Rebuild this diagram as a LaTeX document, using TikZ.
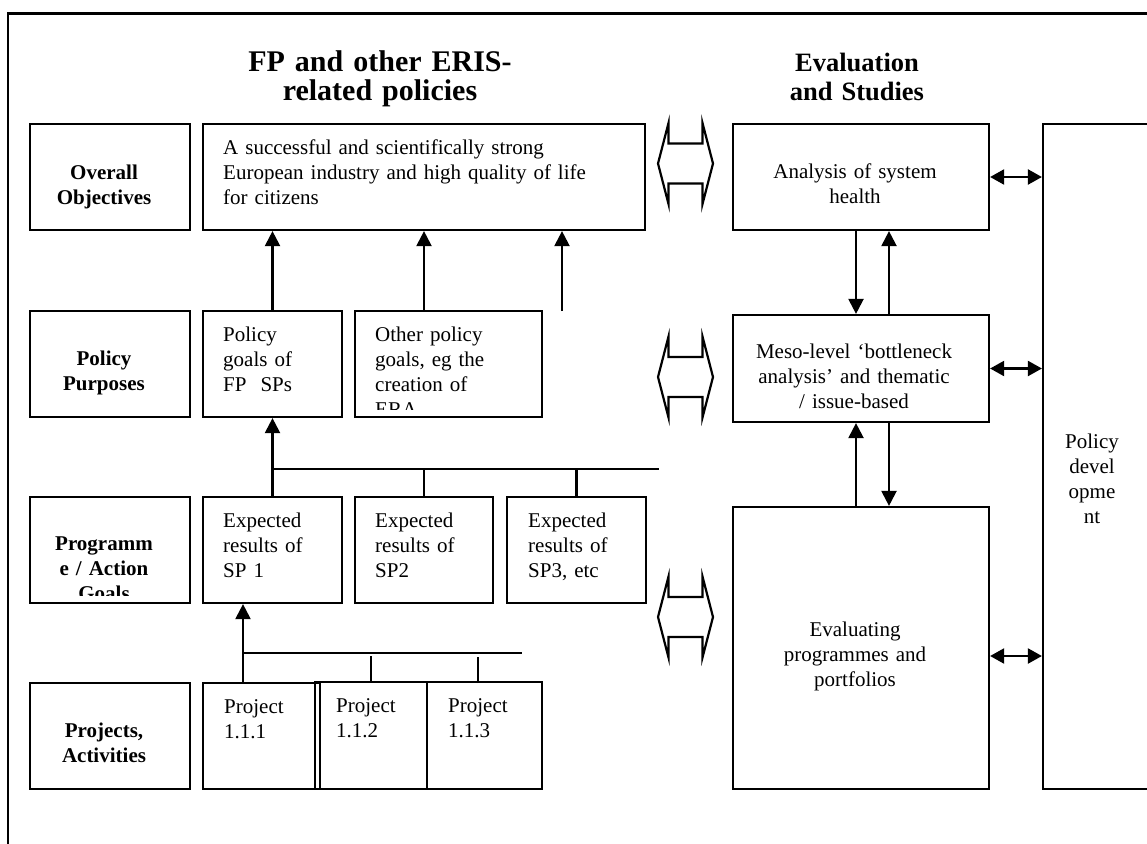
\documentclass[tikz,border=0pt]{standalone}
\usepackage{fontspec}
\setmainfont{Liberation Serif}
\usepackage{tikz}
\usetikzlibrary{arrows.meta, calc, positioning}

\tikzset{
  box/.style={draw, line width=2.2pt, inner sep=0pt},
  head/.style={font=\fontsize{26.5}{29}\selectfont\bfseries, align=center, text width=420pt, anchor=base, inner sep=0pt},
  lbl/.style={font=\fontsize{21}{25}\selectfont\bfseries, align=center, text width=150pt, anchor=base, inner sep=0pt},
  txt/.style={font=\fontsize{21}{25}\selectfont, align=left, text width=420pt, anchor=base west, inner sep=0pt},
  ctxt/.style={font=\fontsize{21}{25}\selectfont, align=center, text width=250pt, anchor=base, inner sep=0pt},
  wire/.style={line width=2.2pt},
  arr/.style={line width=2.2pt, -{Triangle[length=15pt, width=15pt]}},
  dblarr/.style={line width=2.2pt, {Triangle[length=14pt, width=15pt]}-{Triangle[length=14pt, width=15pt]}},
  blockarrow/.style={line width=2.2pt, line join=miter}
}

\begin{document}
\begin{tikzpicture}[x=1pt, y=-1pt]
  \clip (0,0) rectangle (1147,843);

  % Frame
  \draw[line width=2.4pt] (8,13.5) rectangle (1180,880);

  % Column headings
  \node[head, font=\fontsize{30}{29}\selectfont\bfseries] (polhead) at (380,71) {FP and other ERIS-\\related policies};
  \node[head] (evalhead) at (857,71) {Evaluation\\and Studies};

  % Row labels
  \node[box, minimum width=160pt, minimum height=106pt] (objlabel) at (110,177) {};
  \node[lbl] (objlabel-t) at (104,179) {Overall\\Objectives};
  \node[box, minimum width=160pt, minimum height=106pt] (purplabel) at (110,364) {};
  \node[lbl] (purplabel-t) at (104,365) {Policy\\Purposes};
  \node[box, minimum width=160pt, minimum height=106pt] (goallabel) at (110,550) {};
  \begin{scope}
    \clip (goallabel.north west) rectangle ($(goallabel.south east)+(0,-9)$);
    \node[lbl] (goallabel-t) at (104,550) {Programm\\e / Action\\Goals};
  \end{scope}
  \node[box, minimum width=160pt, minimum height=106pt] (projlabel) at (110,736) {};
  \node[lbl] (projlabel-t) at (104,737) {Projects,\\Activities};

  % Objectives and policy goals
  \node[box, minimum width=442pt, minimum height=106pt] (objective) at (424,177) {};
  \node[txt] (objective-t) at (223,154) {A successful and scientifically strong\\European industry and high quality of life\\for citizens};
  \node[box, minimum width=139pt, minimum height=106pt] (fpgoals) at (272.5,364) {};
  \node[txt] (fpgoals-t) at (223,341) {Policy\\goals of\\FP\ \ SPs};
  \node[box, minimum width=187pt, minimum height=106pt] (othergoals) at (448.5,364) {};
  \begin{scope}
    \clip (othergoals.north west) rectangle ($(othergoals.south east)+(0,-9)$);
    \node[txt] (othergoals-t) at (375,341) {Other policy\\goals, eg the\\creation of\\ERA};
  \end{scope}

  % Expected results
  \node[box, minimum width=139pt, minimum height=106pt] (sp1) at (272.5,550) {};
  \node[txt] (sp1-t) at (223,527) {Expected\\results of\\SP 1};
  \node[box, minimum width=138pt, minimum height=106pt] (sp2) at (424,550) {};
  \node[txt] (sp2-t) at (375,527) {Expected\\results of\\SP2};
  \node[box, minimum width=139pt, minimum height=106pt] (sp3) at (576.5,550) {};
  \node[txt] (sp3-t) at (528,527) {Expected\\results of\\SP3, etc};

  % Projects
  \node[box, minimum width=115pt, minimum height=107pt] (proj3) at (484.5,735.5) {};
  \node[txt] (proj3-t) at (448,712) {Project\\1.1.3};
  \node[box, minimum width=112pt, minimum height=107pt] (proj2) at (371,735.5) {};
  \node[txt] (proj2-t) at (336,712) {Project\\1.1.2};
  \node[box, minimum width=117pt, minimum height=106pt] (proj1) at (261.5,736) {};
  \node[txt] (proj1-t) at (224,713) {Project\\1.1.1};

  % Evaluation boxes
  \node[box, minimum width=256pt, minimum height=106pt] (health) at (861,177) {};
  \node[ctxt] (health-t) at (855,178) {Analysis of system\\health};
  \node[box, minimum width=256pt, minimum height=107pt] (meso) at (861,368.5) {};
  \node[ctxt] (meso-t) at (854,358) {Meso-level `bottleneck\\analysis' and thematic\\/ issue-based};
  \node[box, minimum width=256pt, minimum height=282pt] (evalprog) at (861,648) {};
  \node[ctxt] (evalprog-t) at (855,636) {Evaluating\\programmes and\\portfolios};
  \node[box, minimum width=157pt, minimum height=665pt] (policydev) at (1121.5,456.5) {};
  \node[ctxt] (policydev-t) at (1092,448) {Policy\\devel\\opme\\nt};

  % Arrows up to the objectives
  \coordinate (freeend) at (562,311);
  \draw[arr] (fpgoals.north) -- (fpgoals.north |- objective.south);
  \draw[arr] (sp2 |- othergoals.north) -- (sp2 |- objective.south);
  \draw[arr] (freeend) -- (freeend |- objective.south);

  % Expected results feed the policy goals
  \coordinate (busA) at (659,469);
  \draw[arr] (sp1.north) -- (fpgoals.south);
  \draw[wire] (sp1.north |- busA) -- (busA);
  \draw[wire] (sp2.north) -- (sp2.north |- busA);
  \draw[wire] (sp3.north) -- (sp3.north |- busA);

  % Projects feed the expected results
  \coordinate (busB) at (522,653);
  \coordinate (p1) at (243,683);
  \coordinate (p3) at (478,683);
  \draw[arr] (p1) -- (p1 |- sp1.south);
  \draw[wire] (p1 |- busB) -- (busB);
  \draw[wire] (proj2.north) -- ++(0,-25);
  \draw[wire] (p3) -- ++(0,-26);

  % Exchanges between the columns
  \foreach \cy in {163.5, 377, 617}
    \draw[blockarrow] (685.5,\cy) ++(-17,-40.5) -- ++(0,20.5) -- ++(34,0) -- ++(0,-20.5)
      -- ++(10.5,40.5) -- ++(-10.5,40.5) -- ++(0,-20.5) -- ++(-34,0) -- ++(0,20.5)
      -- ++(-10.5,-40.5) -- cycle;

  % Links between evaluation levels
  \coordinate (dn) at (856,0);
  \coordinate (up) at (889,0);
  \draw[arr] (health.south -| dn) -- (meso.north -| dn);
  \draw[arr] (meso.north -| up) -- (health.south -| up);
  \draw[arr] (evalprog.north -| dn) -- (meso.south -| dn);
  \draw[arr] (meso.south -| up) -- (evalprog.north -| up);

  % Links to policy development
  \draw[dblarr] (health.east) -- (health.east -| policydev.west);
  \draw[dblarr] (meso.east) -- (meso.east -| policydev.west);
  \draw[dblarr] ($(evalprog.east)+(0,8)$) -- ($(evalprog.east -| policydev.west)+(0,8)$);
\end{tikzpicture}
\end{document}
